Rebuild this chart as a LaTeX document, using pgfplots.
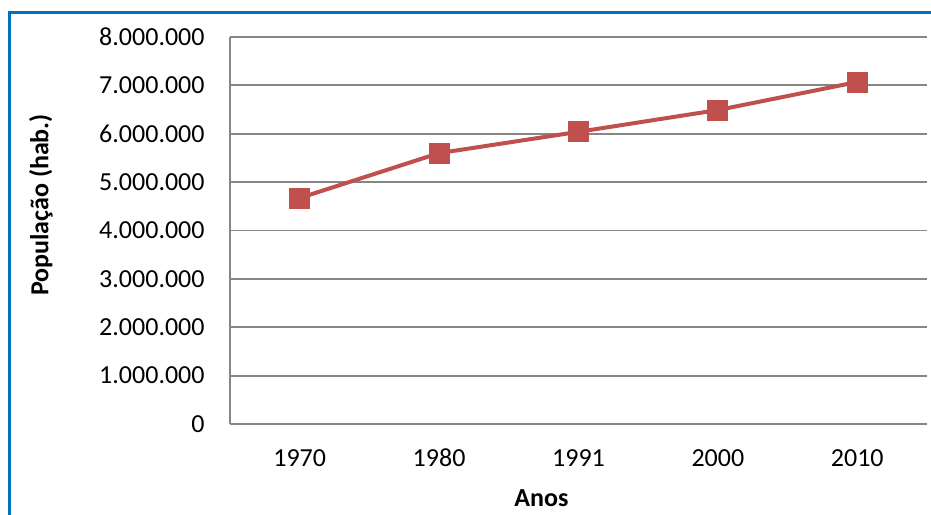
\documentclass[border=0pt]{standalone}
\usepackage{fontspec}
\setmainfont{Carlito}
\usepackage{pgfplots}
\pgfplotsset{compat=1.18}
\definecolor{linered}{HTML}{C0504D}
\definecolor{gridgray}{HTML}{868686}
\definecolor{frameblue}{HTML}{0070C0}
\begin{document}
\begin{tikzpicture}
\useasboundingbox (-115bp,-45.5bp) rectangle (350.5bp,212bp);
\begin{axis}[
  at={(0,0)}, anchor=south west,
  scale only axis,
  width=348.5bp, height=193.5bp,
  xmin=-0.5, xmax=4.5,
  ymin=0, ymax=8000000,
  scaled y ticks=false,
  axis x line*=bottom, axis y line*=left,
  axis line style={draw=gridgray, line width=0.9bp, -},
  xtick={0,1,2,3,4},
  xticklabels={1970,1980,1991,2000,2010},
  ytick={0,1000000,2000000,3000000,4000000,5000000,6000000,7000000,8000000},
  yticklabels={0,1.000.000,2.000.000,3.000.000,4.000.000,5.000.000,6.000.000,7.000.000,8.000.000},
  major tick length=0pt,
  ymajorgrids,
  grid style={draw=gridgray, line width=0.9bp},
  tick label style={font=\fontsize{13bp}{15bp}\selectfont, text=black},
  yticklabel style={anchor=east, inner sep=0pt, xshift=-12.5bp},
  xticklabel style={anchor=center, inner sep=0pt, yshift=-17bp},
  clip=false,
]
\addplot[color=linered, line width=2bp, mark=square*, mark size=5bp,
  mark options={fill=linered, draw=linered, line width=0pt}]
  coordinates {(0,4672000) (1,5600000) (2,6040000) (3,6490000) (4,7070000)};
\end{axis}
\node[rotate=90, font=\fontsize{13bp}{15bp}\selectfont\bfseries] at (-94.5bp,109.5bp) {População (hab.)};
\node[font=\fontsize{13bp}{15bp}\selectfont\bfseries] at (155.75bp,-37bp) {Anos};
\draw[frameblue, line width=1.5bp] (-110bp,-45.5bp) -- (-110bp,205.5bp) -- (350.5bp,205.5bp);
\end{tikzpicture}
\end{document}
